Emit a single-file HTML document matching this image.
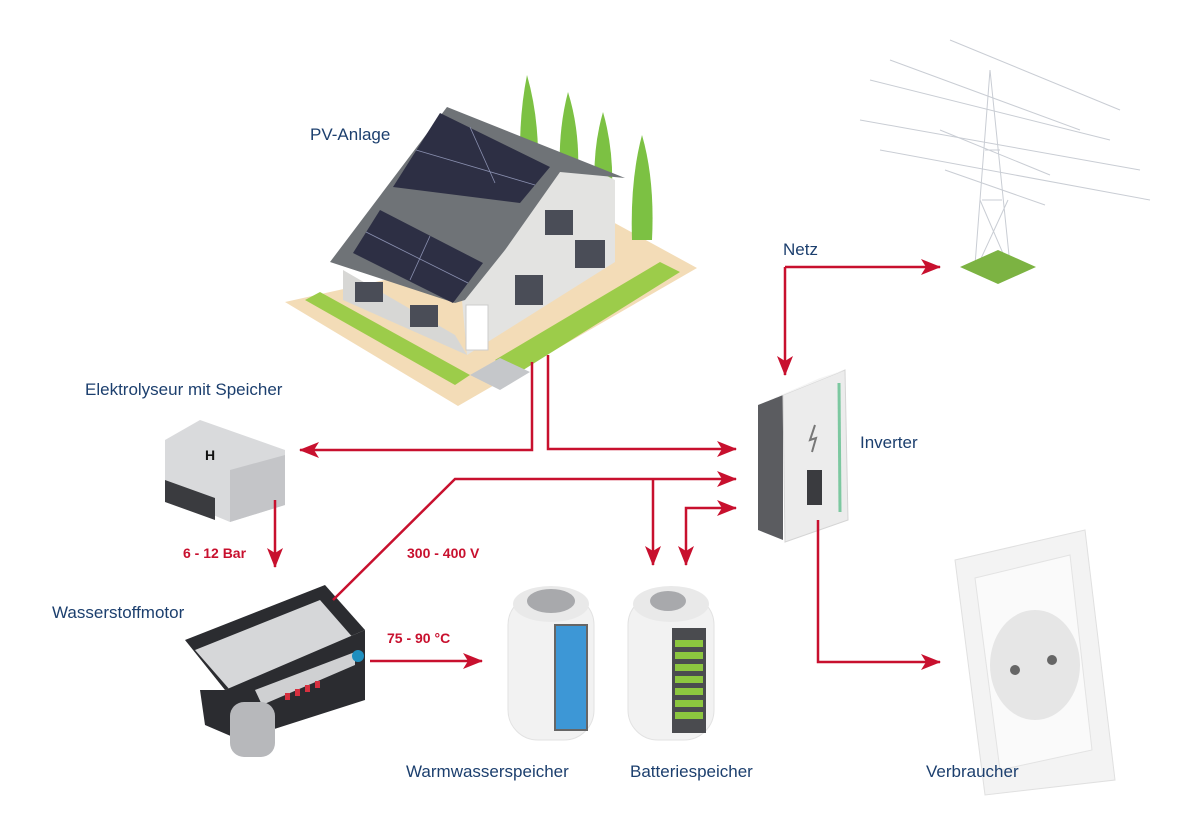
<!DOCTYPE html>
<html><head><meta charset="utf-8"><style>
html,body{margin:0;padding:0;background:#fff}
svg{display:block}
.l{font-family:"Liberation Sans",sans-serif;font-size:17px;fill:#1c3f6e}
.r{font-family:"Liberation Sans",sans-serif;font-size:14px;font-weight:bold;fill:#c8102e}
</style></head><body>
<svg width="1200" height="828" viewBox="0 0 1200 828" xmlns="http://www.w3.org/2000/svg">
<defs>
<marker id="a" viewBox="0 0 20 16" refX="19" refY="8" markerWidth="20" markerHeight="16" markerUnits="userSpaceOnUse" orient="auto">
<path d="M0,0 L20,8 L0,16 L5,8 Z" fill="#c8102e"/></marker>
</defs>

<!-- pylon -->
<g stroke="#c9cdd4" stroke-width="1" fill="none">
<path d="M870,80 L1110,140 M860,120 L1140,170 M880,150 L1150,200 M950,40 L1120,110 M890,60 L1080,130"/>
<path d="M975,265 L990,70 L1010,265 M982,200 L1002,200 M985,150 L1000,150 M940,130 L1050,175 M945,170 L1045,205 M978,265 L1008,200 M1008,265 L980,200"/>
</g>
<polygon points="960,267 998,250 1036,267 998,284" fill="#7cb342"/>

<!-- house plot -->
<polygon points="285,302 458,406 697,268 600,215 520,250" fill="#f3dcb7"/>
<polygon points="305,300 455,385 470,375 320,292" fill="#9ccc4a"/>
<polygon points="495,360 520,372 680,272 660,262" fill="#9ccc4a"/>
<polygon points="470,375 500,390 530,372 500,358" fill="#c5c7ca"/>
<!-- trees -->
<g fill="#7cc143">
<path d="M527,75 Q537,110 538,150 L520,150 Q520,110 527,75Z"/>
<path d="M568,92 Q580,130 578,175 L560,175 Q558,130 568,92Z"/>
<path d="M603,112 Q614,150 612,195 L595,195 Q592,150 603,112Z"/>
<path d="M642,135 Q655,180 652,240 L632,240 Q630,180 642,135Z"/>
</g>
<!-- house walls -->
<polygon points="343,270 455,335 467,355 343,300" fill="#d7d7d5"/>
<polygon points="467,355 615,262 615,180 555,150 505,250 462,300" fill="#e3e3e1"/>
<!-- roof -->
<polygon points="330,262 447,107 625,178 560,172 505,250 465,300 455,303" fill="#6f7377"/>
<polygon points="393,187 440,113 550,167 520,203" fill="#2d2f44"/>
<polygon points="353,253 380,210 483,263 453,303" fill="#2d2f44"/>
<g stroke="#8a90b0" stroke-width="0.8">
<path d="M416,150 L535,185 M470,127 L495,183 M366,232 L468,283 M430,236 L410,280"/>
</g>
<!-- windows -->
<g fill="#4a4d57"><rect x="545" y="210" width="28" height="25"/><rect x="575" y="240" width="30" height="28"/><rect x="515" y="275" width="28" height="30"/><rect x="355" y="282" width="28" height="20"/><rect x="410" y="305" width="28" height="22"/></g>
<rect x="466" y="305" width="22" height="45" fill="#fff" stroke="#ccc"/>

<!-- elektrolyseur -->
<polygon points="165,440 200,420 285,450 285,505 230,522 165,495" fill="#d9dadc"/>
<polygon points="165,480 215,498 215,520 165,502" fill="#3a3b3f"/>
<polygon points="230,470 285,455 285,505 230,522" fill="#c4c5c8"/>
<text x="205" y="460" font-family="Liberation Sans" font-weight="bold" font-size="14" fill="#111">H</text>

<!-- motor -->
<polygon points="185,640 325,585 365,630 225,690" fill="#2b2c30"/>
<polygon points="195,650 320,600 355,640 230,690" fill="#d6d7d9"/>
<polygon points="225,690 365,630 365,700 240,740 205,725 200,690" fill="#2b2c30"/>
<polygon points="255,690 355,652 355,665 262,705" fill="#cfd0d2"/>
<g fill="#d6303f"><rect x="285" y="693" width="5" height="7"/><rect x="295" y="689" width="5" height="7"/><rect x="305" y="685" width="5" height="7"/><rect x="315" y="681" width="5" height="7"/></g>
<circle cx="358" cy="656" r="6" fill="#1f8fbf"/>
<rect x="230" y="702" width="45" height="55" rx="14" fill="#b7b8bb"/>

<!-- warmwasser tank -->
<rect x="508" y="595" width="86" height="145" rx="30" fill="#f2f2f2" stroke="#e2e2e2"/>
<ellipse cx="551" cy="604" rx="38" ry="18" fill="#e9e9e9"/>
<ellipse cx="551" cy="601" rx="24" ry="12" fill="#a8a9ac"/>
<rect x="555" y="625" width="32" height="105" fill="#3d97d6" stroke="#666" stroke-width="2"/>
<!-- battery -->
<rect x="628" y="595" width="86" height="145" rx="30" fill="#f2f2f2" stroke="#e2e2e2"/>
<ellipse cx="671" cy="604" rx="38" ry="18" fill="#e9e9e9"/>
<ellipse cx="668" cy="601" rx="18" ry="10" fill="#a8a9ac"/>
<rect x="672" y="628" width="34" height="105" fill="#4a4b4f"/>
<g fill="#8cc63f"><rect x="675" y="640" width="28" height="7"/><rect x="675" y="652" width="28" height="7"/><rect x="675" y="664" width="28" height="7"/><rect x="675" y="676" width="28" height="7"/><rect x="675" y="688" width="28" height="7"/><rect x="675" y="700" width="28" height="7"/><rect x="675" y="712" width="28" height="7"/></g>

<!-- inverter -->
<polygon points="758,405 783,395 783,540 758,530" fill="#5b5c60"/>
<polygon points="783,395 845,370 848,520 785,542" fill="#ececec" stroke="#d5d5d5"/>
<polygon points="758,405 820,378 845,370 783,395" fill="#f4f4f4"/>
<line x1="839" y1="383" x2="840" y2="512" stroke="#7cc8a0" stroke-width="3"/>
<rect x="807" y="470" width="15" height="35" fill="#3a3b3f"/>
<path d="M815,425 L810,440 L816,438 L812,452" stroke="#777" fill="none" stroke-width="2"/>

<!-- socket -->
<polygon points="955,560 1085,530 1115,780 985,795" fill="#f3f3f3" stroke="#e0e0e0"/>
<polygon points="975,578 1070,555 1092,750 1000,770" fill="#fafafa" stroke="#e3e3e3"/>
<ellipse cx="1035" cy="665" rx="45" ry="55" fill="#e6e6e6"/>
<circle cx="1015" cy="670" r="5" fill="#666"/><circle cx="1052" cy="660" r="5" fill="#666"/>

<!-- connectors -->
<g stroke="#c8102e" stroke-width="2.5" fill="none">
<path d="M532,362 L532,450 L300,450" marker-end="url(#a)"/>
<path d="M548,355 L548,449 L736,449" marker-end="url(#a)"/>
<path d="M333,600 L455,479 L736,479" marker-end="url(#a)"/>
<path d="M653,479 L653,565" marker-end="url(#a)"/>
<path d="M686,510 L686,565" marker-end="url(#a)"/>
<path d="M686,510 L686,508 L736,508" marker-end="url(#a)"/>
<path d="M785,267 L940,267" marker-end="url(#a)"/>
<path d="M785,267 L785,375" marker-end="url(#a)"/>
<path d="M818,520 L818,662 L940,662" marker-end="url(#a)"/>
<path d="M275,500 L275,567" marker-end="url(#a)"/>
<path d="M370,661 L482,661" marker-end="url(#a)"/>
</g>

<!-- labels -->
<text class="l" x="310" y="140">PV-Anlage</text>
<text class="l" x="85" y="395">Elektrolyseur mit Speicher</text>
<text class="l" x="52" y="618">Wasserstoffmotor</text>
<text class="l" x="783" y="255">Netz</text>
<text class="l" x="860" y="448">Inverter</text>
<text class="l" x="406" y="777">Warmwasserspeicher</text>
<text class="l" x="630" y="777">Batteriespeicher</text>
<text class="l" x="926" y="777">Verbraucher</text>
<text class="r" x="183" y="558">6 - 12 Bar</text>
<text class="r" x="407" y="558">300 - 400 V</text>
<text class="r" x="387" y="643">75 - 90 °C</text>
</svg>
</body></html>
